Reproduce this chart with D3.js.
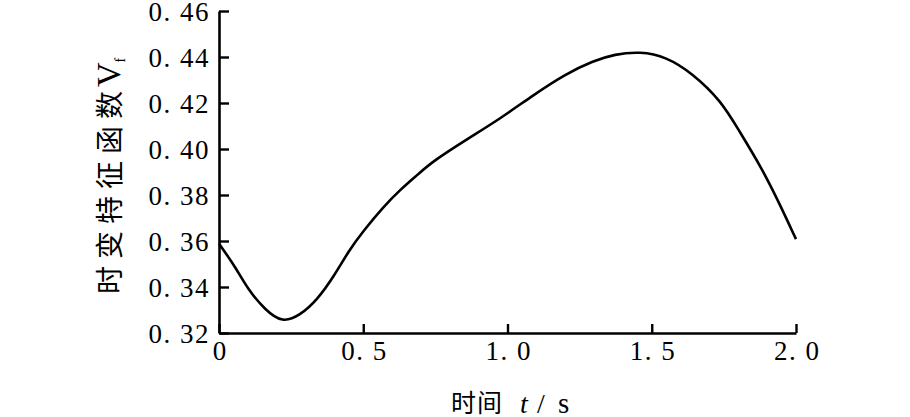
<!DOCTYPE html>
<html>
<head>
<meta charset="utf-8">
<script src="https://cdn.jsdelivr.net/npm/d3@7"></script>
<style>
  html, body { margin: 0; padding: 0; background: #fff; }
  svg { display: block; }
  .tick text { font-family: "Liberation Serif", "DejaVu Serif", serif; font-size: 27px; fill: #000; letter-spacing: 1.5px; }
</style>
</head>
<body>
<svg id="chart" width="910" height="417"></svg>
<script>
const timeValues = [0, 0.06, 0.1, 0.16, 0.22, 0.28, 0.34, 0.4, 0.45, 0.5, 0.57, 0.63, 0.69, 0.74, 0.86, 0.97, 1.09, 1.2, 1.3, 1.37, 1.46, 1.55, 1.64, 1.74, 1.8, 1.88, 1.94, 2.0];
const vfValues   = [0.3589, 0.3481, 0.3390, 0.3300, 0.3244, 0.3276, 0.3343, 0.3450, 0.3558, 0.3643, 0.3749, 0.3825, 0.3890, 0.3946, 0.4043, 0.4128, 0.4235, 0.4326, 0.4384, 0.4412, 0.4424, 0.4401, 0.4330, 0.4210, 0.4085, 0.3920, 0.3770, 0.3608];
const xTicks = [0, 0.5, 1.0, 1.5, 2.0];
const xTickLabels = ["0", "0. 5", "1. 0", "1. 5", "2. 0"];
const yTicks = [0.32, 0.34, 0.36, 0.38, 0.40, 0.42, 0.44, 0.46];
const yTickLabels = ["0. 32", "0. 34", "0. 36", "0. 38", "0. 40", "0. 42", "0. 44", "0. 46"];

const svg = d3.select("#chart");
const x = d3.scaleLinear().domain([0, 2]).range([219, 796]);
const y = d3.scaleLinear().domain([0.32, 0.46]).range([333, 11]);

const xAxis = d3.axisBottom(x).tickValues(xTicks)
  .tickFormat((d, i) => xTickLabels[i]).tickSizeInner(-9).tickSizeOuter(0).tickPadding(8);
const yAxis = d3.axisLeft(y).tickValues(yTicks)
  .tickFormat((d, i) => yTickLabels[i]).tickSizeInner(-10).tickSizeOuter(0).tickPadding(9);

const gx = svg.append("g").attr("transform", "translate(0,333)").call(xAxis);
const gy = svg.append("g").attr("transform", "translate(219,0)").call(yAxis);
[gx, gy].forEach(g => {
  g.selectAll("path.domain").attr("stroke", "#000").attr("stroke-width", 2.6);
  g.selectAll(".tick line").attr("stroke", "#000").attr("stroke-width", 2.4);
});
gy.selectAll(".tick text").attr("dy", "0.36em");
gx.selectAll(".tick text").attr("dy", "0.7em").attr("dx", "0.75px");

const pts = timeValues.map((t, i) => [t, vfValues[i]]);
const line = d3.line().x(d => x(d[0])).y(d => y(d[1])).curve(d3.curveBasis);
svg.append("path").datum(pts)
  .attr("d", line).attr("fill", "none").attr("stroke", "#000").attr("stroke-width", 2.6);

// x axis title
const xt = svg.append("text").attr("y", 411.5).attr("fill", "#000");
xt.append("tspan").attr("x", 451).style("font-family", "'Noto Sans CJK SC', sans-serif")
  .style("font-size", "25px").style("letter-spacing", "1px").text("时间");
xt.append("tspan").attr("x", 520).attr("y", 412.5).style("font-family", "'Liberation Serif', serif")
  .style("font-size", "28px").style("font-style", "italic").text("t");
xt.append("tspan").attr("x", 537).style("font-family", "'Liberation Serif', serif")
  .style("font-size", "28px").text("/");
xt.append("tspan").attr("x", 558).style("font-family", "'Liberation Serif', serif")
  .style("font-size", "29px").text("s");

// y axis title
const yt = svg.append("text").attr("transform", "translate(120,294) rotate(-90)")
  .attr("x", 0).attr("y", 0).attr("fill", "#000");
yt.append("tspan").style("font-family", "'Noto Sans CJK SC', sans-serif")
  .style("font-size", "28px").style("letter-spacing", "7px").text("时变特征函数");
yt.append("tspan").attr("dx", -3).style("font-family", "'Liberation Serif', serif")
  .style("font-size", "34px").text("V");
yt.append("tspan").attr("dy", 5).style("font-family", "'Liberation Serif', serif")
  .style("font-size", "14px").text("f");
</script>
</body>
</html>
